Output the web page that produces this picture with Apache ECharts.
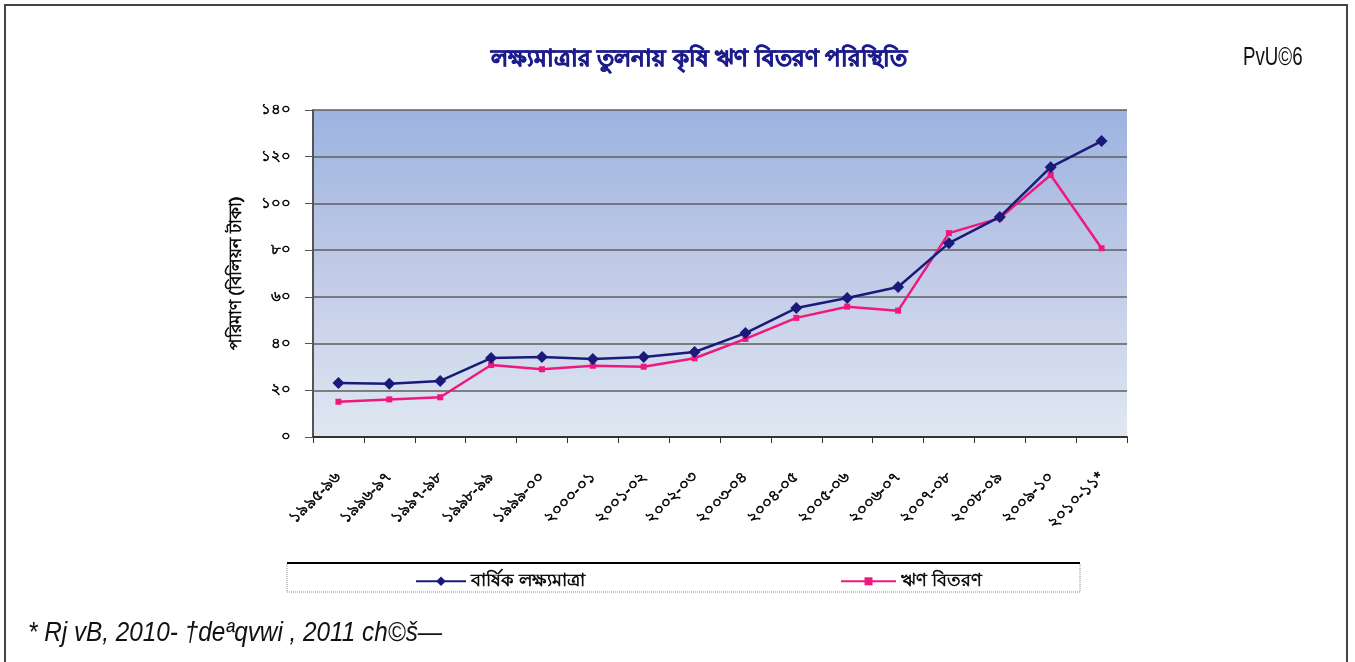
<!DOCTYPE html>
<html>
<head>
<meta charset="utf-8">
<script src="https://cdn.jsdelivr.net/npm/echarts@6/dist/echarts.min.js"></script>
<style>
  html, body { margin: 0; padding: 0; background: #fff; }
  #chart { width: 1355px; height: 662px; }
</style>
</head>
<body>
<div id="chart"></div>
<script>
// বছর (x অক্ষ)
var categories = ['১৯৯৫-৯৬', '১৯৯৬-৯৭', '১৯৯৭-৯৮', '১৯৯৮-৯৯', '১৯৯৯-০০', '২০০০-০১', '২০০১-০২', '২০০২-০৩',
  '২০০৩-০৪', '২০০৪-০৫', '২০০৫-০৬', '২০০৬-০৭', '২০০৭-০৮', '২০০৮-০৯', '২০০৯-১০', '২০১০-১১*'];
// বার্ষিক লক্ষ্যমাত্রা
var targetValues = [23.1, 22.8, 24.0, 33.8, 34.2, 33.4, 34.2, 36.4, 44.5, 55.2, 59.5, 64.2, 83.0, 94.2, 115.5, 126.7];
// ঋণ বিতরণ
var disbursedValues = [15.1, 16.1, 17.0, 30.8, 29.0, 30.5, 30.1, 33.7, 42.0, 51.0, 55.8, 54.1, 87.3, 93.7, 112.2, 80.8];
var yTickLabels = ['০', '২০', '৪০', '৬০', '৮০', '১০০', '১২০', '১৪০'];

var chart = echarts.init(document.getElementById('chart'));

// মোটা অক্ষরের জন্য হালকা বর্ডার
var boldText = { textBorderColor: '#000', textBorderWidth: 0.6 };

var option = {
  backgroundColor: '#ffffff',
  animation: false,
  title: [{
    text: 'লক্ষ্যমাত্রার তুলনায় কৃষি ঋণ বিতরণ পরিস্থিতি',
    left: 486,
    top: 43,
    textStyle: { color: '#1c1c8c', fontSize: 23, fontWeight: 'bold', textBorderColor: '#1c1c8c', textBorderWidth: 0.8 }
  }],
  legend: [{
    data: ['বার্ষিক লক্ষ্যমাত্রা'],
    left: 410,
    top: 567,
    itemWidth: 50,
    itemHeight: 12,
    textStyle: Object.assign({ color: '#000', fontSize: 18 }, boldText)
  }, {
    data: ['ঋণ বিতরণ'],
    left: 835,
    top: 567,
    itemWidth: 55,
    itemHeight: 10,
    textStyle: Object.assign({ color: '#000', fontSize: 18 }, boldText)
  }],
  grid: {
    left: 313,
    right: 228,
    top: 110,
    bottom: 225,
    show: true,
    borderWidth: 0,
    backgroundColor: new echarts.graphic.LinearGradient(0, 0, 0, 1, [
      { offset: 0, color: '#9cb3e0' },
      { offset: 0.5, color: '#c2cbe7' },
      { offset: 1, color: '#dfe8f1' }
    ])
  },
  xAxis: {
    type: 'category',
    data: categories,
    boundaryGap: true,
    axisLine: { lineStyle: { color: '#333', width: 2 } },
    axisTick: { show: true, alignWithLabel: false, length: 6, lineStyle: { color: '#333' } },
    axisLabel: Object.assign({ rotate: 45, color: '#000', fontSize: 16, margin: 38, interval: 0 }, boldText)
  },
  yAxis: {
    type: 'value',
    min: 0,
    max: 140,
    interval: 20,
    name: 'পরিমাণ (বিলিয়ন টাকা)',
    nameLocation: 'middle',
    nameRotate: 90,
    nameGap: 68,
    nameTextStyle: Object.assign({ color: '#000', fontSize: 17 }, boldText),
    axisLine: { show: true, lineStyle: { color: '#555', width: 2 } },
    axisTick: { show: true, length: 8, lineStyle: { color: '#555' } },
    axisLabel: Object.assign({
      color: '#000', fontSize: 15, margin: 22,
      formatter: function (v) { return yTickLabels[Math.round(v / 20)]; }
    }, boldText),
    splitLine: { lineStyle: { color: '#5e5e5e', width: 1.5 } }
  },
  series: [{
    name: 'বার্ষিক লক্ষ্যমাত্রা',
    type: 'line',
    data: targetValues,
    symbol: 'diamond',
    symbolSize: 12,
    itemStyle: { color: '#1a1a7a' },
    lineStyle: { color: '#1a1a7a', width: 2.5 },
    z: 3
  }, {
    name: 'ঋণ বিতরণ',
    type: 'line',
    data: disbursedValues,
    symbol: 'rect',
    symbolSize: 6,
    itemStyle: { color: '#f0187e' },
    lineStyle: { color: '#f0187e', width: 2.5 },
    z: 2
  }],
  graphic: [{
    type: 'polyline',
    shape: { points: [[5, 662], [5, 5], [1347, 5], [1347, 662]] },
    style: { fill: null, stroke: '#444', lineWidth: 2 },
    silent: true
  }, {
    type: 'rect',
    shape: { x: 287, y: 563, width: 793, height: 29 },
    style: { fill: '#fff', stroke: '#888', lineWidth: 1, lineDash: [1, 1] },
    z: -1,
    silent: true
  }, {
    type: 'line',
    shape: { x1: 287, y1: 563, x2: 1080, y2: 563 },
    style: { stroke: '#000', lineWidth: 2 },
    silent: true
  }, {
    type: 'text',
    x: 1243,
    y: 45,
    scaleX: 0.72,
    style: { text: 'PvU©6', fill: '#111', font: '26px "Liberation Sans", sans-serif' },
    silent: true
  }, {
    type: 'text',
    x: 28,
    y: 620,
    scaleX: 0.9,
    style: { text: '* Rj vB, 2010- †deªqvwi , 2011 ch©š—', fill: '#111', font: 'italic 27px "Liberation Sans", sans-serif' },
    silent: true
  }]
};

chart.setOption(option);
</script>
</body>
</html>
